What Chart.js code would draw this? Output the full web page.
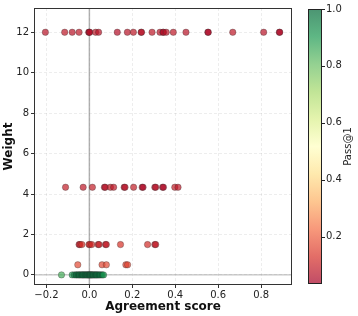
<!DOCTYPE html>
<html>
<head>
<meta charset="utf-8">
<script src="https://cdn.jsdelivr.net/npm/chart.js@4.4.0/dist/chart.umd.min.js"></script>
<style>
  html, body { margin: 0; padding: 0; background: #fff; }
  #wrap { width: 358px; height: 316px; position: relative; }
</style>
</head>
<body>
<div id="wrap"><canvas id="chart"></canvas></div>
<script>
// --- data ---
const weights = [12, 13 / 3, 1.5, 0.5, 0];

const scoresW12 = [-0.205, -0.115, -0.080, -0.048, -0.003, -0.001, 0.002, 0.029, 0.043, 0.130,
    0.177, 0.205, 0.241, 0.243, 0.292, 0.329, 0.343, 0.345, 0.358, 0.391, 0.450, 0.552, 0.554,
    0.668, 0.812, 0.885, 0.887];
const passW12 = [0.07, 0.08, 0.07, 0.08, 0.06, 0.05, 0.06, 0.08, 0.07, 0.06,
    0.07, 0.08, 0.06, 0.07, 0.08, 0.07, 0.05, 0.06, 0.07, 0.08, 0.07, 0.06, 0.05,
    0.08, 0.07, 0.06, 0.05];

const scoresW4 = [-0.111, -0.029, 0.014, 0.070, 0.074, 0.098, 0.113, 0.162, 0.166, 0.206,
    0.246, 0.250, 0.305, 0.309, 0.341, 0.345, 0.398, 0.413];
const passW4 = [0.09, 0.08, 0.09, 0.06, 0.07, 0.09, 0.08, 0.06, 0.07, 0.09,
    0.06, 0.05, 0.06, 0.07, 0.06, 0.05, 0.09, 0.08];

const scoresW15 = [-0.048, -0.044, -0.035, -0.002, 0.002, 0.011, 0.041, 0.045, 0.075, 0.079,
    0.145, 0.271, 0.305, 0.309];
const passW15 = [0.08, 0.09, 0.13, 0.12, 0.10, 0.12, 0.09, 0.10, 0.08, 0.09,
    0.13, 0.12, 0.08, 0.09];

const scoresW05 = [-0.054, 0.059, 0.079, 0.170, 0.178];
const passW05 = [0.17, 0.16, 0.17, 0.15, 0.16];

const scoresW0 = [-0.130, -0.080, -0.070, -0.062, -0.058, -0.052, -0.047, -0.043, -0.038, -0.033,
    -0.030, -0.026, -0.022, -0.018, -0.014, -0.010, -0.007, -0.004, -0.001, 0.002, 0.005, 0.008,
    0.011, 0.014, 0.018, 0.022, 0.026, 0.030, 0.034, 0.038, 0.043, 0.048, 0.054, 0.060, 0.066];
const passW0 = [0.85, 0.9, 0.95, 1.0, 0.95, 1.0, 1.0, 0.95, 1.0, 1.0,
    1.0, 0.95, 1.0, 1.0, 1.0, 1.0, 0.95, 1.0, 1.0, 1.0, 1.0, 0.95,
    1.0, 1.0, 1.0, 0.95, 1.0, 1.0, 1.0, 0.95, 1.0, 1.0, 0.95, 1.0, 0.9];

const xTicks = [-0.2, 0.0, 0.2, 0.4, 0.6, 0.8];
const yTicks = [0, 2, 4, 6, 8, 10, 12];
const cbTicks = [0.2, 0.4, 0.6, 0.8, 1.0];
const passMin = 0.033, passMax = 1.0;

// RdYlGn colormap
const rdylgn = ['#a50026', '#d73027', '#f46d43', '#fdae61', '#fee08b', '#ffffbf',
    '#d9ef8b', '#a6d96a', '#66bd63', '#1a9850', '#006837'];
const ALPHA = 0.7;

function hexRgb(h) {
    return [parseInt(h.slice(1, 3), 16), parseInt(h.slice(3, 5), 16), parseInt(h.slice(5, 7), 16)];
}

function passColor(v) {
    let t = (v - passMin) / (passMax - passMin);
    t = Math.max(0, Math.min(1, t));
    const pos = t * (rdylgn.length - 1);
    const i = Math.min(Math.floor(pos), rdylgn.length - 2);
    const f = pos - i;
    const a = hexRgb(rdylgn[i]), b = hexRgb(rdylgn[i + 1]);
    const c = a.map((x, k) => Math.round(x + (b[k] - x) * f));
    return `rgba(${c[0]},${c[1]},${c[2]},${ALPHA})`;
}

const groups = [
    [scoresW12, passW12], [scoresW4, passW4], [scoresW15, passW15], [scoresW05, passW05], [scoresW0, passW0]
];
const points = [];
const colors = [];
groups.forEach(([sc, ps], g) => {
    sc.forEach((s, i) => {
        points.push({ x: s, y: weights[g] });
        colors.push(passColor(ps[i]));
    });
});

const FONT = "'DejaVu Sans', sans-serif";
const minus = s => String(s).replace('-', '\u2212');

const zeroLines = {
    id: 'zeroLines',
    beforeDatasetsDraw(chart) {
        const { ctx, chartArea: a, scales: { x, y } } = chart;
        ctx.save();
        ctx.strokeStyle = 'rgba(128,128,128,0.6)';
        ctx.lineWidth = 1;
        const py = y.getPixelForValue(0);
        ctx.beginPath(); ctx.moveTo(a.left, py); ctx.lineTo(a.right, py); ctx.stroke();
        ctx.lineWidth = 1.5;
        const px = x.getPixelForValue(0);
        ctx.beginPath(); ctx.moveTo(px, a.top); ctx.lineTo(px, a.bottom); ctx.stroke();
        ctx.restore();
    }
};

const frame = {
    id: 'frame',
    afterDatasetsDraw(chart) {
        const { ctx, chartArea: a } = chart;
        ctx.save();
        ctx.strokeStyle = '#333';
        ctx.lineWidth = 1;
        ctx.strokeRect(a.left + 0.5, a.top + 0.5, a.right - a.left - 1, a.bottom - a.top - 1);
        ctx.restore();
    }
};

const colorbar = {
    id: 'colorbar',
    afterDraw(chart) {
        const { ctx, chartArea: a } = chart;
        const x0 = 308, w = 14, top = a.top + 1, bottom = a.bottom - 1;
        ctx.save();
        const grad = ctx.createLinearGradient(0, bottom, 0, top);
        rdylgn.forEach((c, i) => {
            const [r, g, b] = hexRgb(c);
            grad.addColorStop(i / (rdylgn.length - 1), `rgba(${r},${g},${b},${ALPHA})`);
        });
        ctx.fillStyle = grad;
        ctx.fillRect(x0, top, w, bottom - top);
        ctx.strokeStyle = '#222';
        ctx.lineWidth = 1;
        ctx.strokeRect(x0 + 0.5, top + 0.5, w - 1, bottom - top - 1);

        ctx.fillStyle = '#222';
        ctx.font = `10px ${FONT}`;
        ctx.textAlign = 'left';
        ctx.textBaseline = 'middle';
        cbTicks.forEach(v => {
            const py = bottom - (v - passMin) / (passMax - passMin) * (bottom - top);
            ctx.beginPath();
            ctx.moveTo(x0 + w, Math.round(py) + 0.5);
            ctx.lineTo(x0 + w + 3, Math.round(py) + 0.5);
            ctx.stroke();
            ctx.fillText(v.toFixed(1), x0 + w + 4, py);
        });

        ctx.translate(348, (top + bottom) / 2);
        ctx.rotate(-Math.PI / 2);
        ctx.textAlign = 'center';
        ctx.fillText('Pass@1', 0, 0);
        ctx.restore();
    }
};

new Chart(document.getElementById('chart'), {
    type: 'scatter',
    data: {
        datasets: [{
            data: points,
            backgroundColor: colors,
            borderColor: 'rgba(50,50,50,0.55)',
            borderWidth: 0.6,
            pointRadius: 3.2,
            pointHoverRadius: 3.2
        }]
    },
    options: {
        responsive: true,
        maintainAspectRatio: false,
        animation: false,
        layout: { padding: { top: 8, right: 66, left: 0, bottom: 0 } },
        plugins: {
            legend: { display: false },
            tooltip: { enabled: false }
        },
        scales: {
            x: {
                type: 'linear',
                min: -0.258,
                max: 0.944,
                afterBuildTicks: s => { s.ticks = xTicks.map(v => ({ value: v })); },
                afterFit: s => { s.height = 31; },
                ticks: {
                    color: '#222',
                    font: { family: FONT, size: 10 },
                    padding: 1,
                    maxRotation: 0,
                    callback: v => minus(Number(v).toFixed(1))
                },
                grid: {
                    color: 'rgba(0,0,0,0.07)',
                    tickColor: '#333',
                    tickLength: 3,
                    drawTicks: true
                },
                border: { display: false, dash: [3, 2] },
                title: {
                    display: true,
                    text: 'Agreement score',
                    color: '#111',
                    font: { family: FONT, size: 12, weight: 'bold' },
                    padding: { top: 0, bottom: 2 }
                }
            },
            y: {
                type: 'linear',
                min: -0.5,
                max: 13.2,
                afterBuildTicks: s => { s.ticks = yTicks.map(v => ({ value: v })); },
                afterFit: s => { s.width = 34; },
                ticks: {
                    color: '#222',
                    font: { family: FONT, size: 10 },
                    padding: 2,
                    callback: v => String(v)
                },
                grid: {
                    color: 'rgba(0,0,0,0.07)',
                    tickColor: '#333',
                    tickLength: 3,
                    drawTicks: true
                },
                border: { display: false, dash: [3, 2] },
                title: {
                    display: true,
                    text: 'Weight',
                    color: '#111',
                    font: { family: FONT, size: 12, weight: 'bold' },
                    padding: { top: 2, bottom: 0 }
                }
            }
        }
    },
    plugins: [zeroLines, frame, colorbar]
});
</script>
</body>
</html>
